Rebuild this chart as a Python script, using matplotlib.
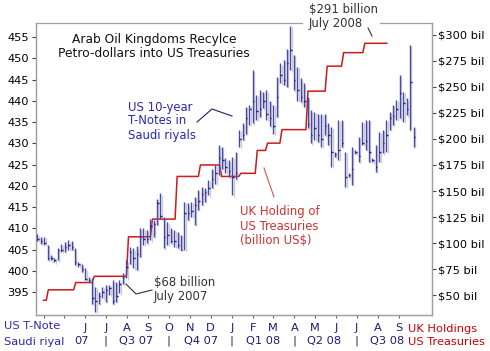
import matplotlib
matplotlib.use('Agg')
import matplotlib.pyplot as plt
import matplotlib.patheffects as pe
import pandas as pd

# US 10-year T-Note priced in Saudi riyals (bars: high / low / close)
highs = [408.6, 408.0, 408.0, 406.1, 403.7, 402.9, 405.3, 406.3, 406.8, 407.2,
         407.1, 405.3, 402.1, 401.7, 400.6, 398.5, 398.2, 396.3, 395.1, 396.3,
         396.7, 396.7, 397.8, 397.4, 397.8, 399.5, 402.5, 405.5, 405.3, 405.8,
         410.0, 410.0, 409.6, 412.3, 411.9, 417.0, 418.2, 412.7, 411.5, 410.0,
         409.6, 409.2, 408.4, 416.3, 415.9, 416.3, 417.4, 419.0, 419.8, 419.4,
         421.4, 424.0, 425.0, 429.5, 429.2, 426.5, 426.0, 426.8, 428.0, 433.1,
         434.7, 438.6, 439.0, 447.2, 441.4, 442.5, 442.1, 442.5, 440.0, 439.0,
         445.7, 448.8, 449.6, 452.3, 457.6, 450.8, 448.0, 445.3, 444.1, 441.0,
         437.8, 437.4, 437.0, 437.0, 437.0, 434.7, 433.9, 428.0, 435.5, 435.5,
         428.0, 423.0, 429.2, 428.5, 431.5, 435.1, 435.5, 435.5, 426.5, 429.6,
         432.7, 433.1, 435.5, 437.4, 439.0, 440.2, 446.1, 442.1, 440.6, 453.1, 433.9]
lows = [407.0, 406.4, 406.1, 402.5, 402.5, 402.0, 402.5, 404.5, 404.5, 404.9,
        405.0, 401.4, 401.0, 399.8, 397.8, 397.4, 392.3, 390.4, 392.3, 393.5,
        392.7, 394.3, 392.3, 392.7, 394.7, 397.0, 398.2, 401.7, 400.6, 400.2,
        403.3, 406.1, 406.5, 407.2, 408.0, 410.8, 412.3, 405.3, 406.1, 406.5,
        405.7, 405.3, 404.9, 404.9, 411.9, 412.7, 410.8, 414.3, 415.5, 416.3,
        417.8, 419.5, 420.5, 422.5, 424.0, 423.0, 422.0, 417.8, 421.5, 429.2,
        430.8, 432.3, 434.3, 434.7, 435.5, 436.2, 438.2, 435.5, 434.0, 432.3,
        436.2, 444.1, 443.7, 443.3, 447.2, 442.5, 440.0, 439.6, 438.6, 433.5,
        430.0, 430.8, 430.4, 429.2, 431.9, 429.6, 424.5, 426.8, 426.1, 429.2,
        419.8, 422.0, 420.2, 427.5, 425.7, 429.6, 428.4, 425.7, 425.5, 423.3,
        425.7, 427.6, 428.0, 433.1, 434.3, 435.5, 435.9, 435.1, 436.6, 433.1, 429.2]
closes = [407.5, 407.0, 406.5, 403.0, 403.0, 402.5, 405.0, 405.0, 405.5, 406.0,
          405.5, 402.0, 401.5, 400.5, 398.0, 397.8, 393.5, 393.0, 394.0, 395.0,
          395.5, 396.0, 393.0, 394.0, 397.0, 398.5, 401.0, 404.5, 403.0, 404.0,
          408.0, 407.5, 407.5, 410.5, 411.0, 416.0, 413.0, 408.0, 408.5, 407.0,
          407.0, 406.0, 405.0, 413.5, 413.5, 414.0, 415.5, 416.5, 418.0, 418.5,
          419.5, 421.5, 423.0, 426.5, 426.0, 424.5, 423.5, 422.0, 423.0, 431.0,
          432.0, 436.0, 438.0, 440.0, 437.5, 438.0, 440.0, 437.0, 436.0, 434.0,
          441.0, 446.0, 445.0, 449.0, 452.0, 445.0, 442.5, 441.0, 440.0, 434.5,
          432.0, 433.5, 432.0, 431.0, 434.0, 432.0, 428.0, 427.5, 428.5, 430.0,
          422.0, 422.5, 424.0, 428.0, 427.0, 430.0, 430.5, 428.0, 426.0, 424.5,
          428.0, 430.0, 432.0, 436.0, 436.5, 438.0, 441.8, 439.4, 438.0, 444.5, 431.5]
bar_dates = pd.date_range('2007-03-23', '2008-09-22', periods=len(highs))

# UK holdings of US Treasuries (billion US$), monthly steps
uk_dates = pd.to_datetime(['2007-04-01', '2007-04-08', '2007-05-18', '2007-06-14',
                           '2007-08-03', '2007-09-07', '2007-10-13', '2007-11-16',
                           '2007-12-17', '2008-01-14', '2008-02-07', '2008-02-22',
                           '2008-03-14', '2008-04-21', '2008-05-19', '2008-06-12',
                           '2008-07-13'])
uk_values = [45, 55, 62, 68, 106, 123, 164, 175, 164, 167, 189, 196, 209, 246, 270, 283, 292]
uk_end = pd.Timestamp('2008-08-14')

month_labels = ['', '', 'J', 'J', 'A', 'S', 'O', 'N', 'D', 'J', 'F', 'M', 'A', 'M', 'J', 'J', 'A', 'S']
quarter_labels = ['07', 'Q3 07', 'Q4 07', 'Q1 08', 'Q2 08', 'Q3 08']
quarter_mid = pd.to_datetime(['2007-05-27', '2007-08-14', '2007-11-17', '2008-02-15', '2008-05-15', '2008-08-14'])
quarter_starts = pd.to_datetime(['2007-07-01', '2007-10-01', '2008-01-01', '2008-04-01', '2008-07-01'])

W, H = 490, 351
fig = plt.figure(figsize=(W / 100, H / 100), dpi=100)
ax = fig.add_axes([36 / W, 1 - 315 / H, 396 / W, 292 / H])
ax2 = ax.twinx()

def px(x, y):
    return x / W, 1 - y / H

grey = '#a0a0a0'
navy = '#1c1c70'

# red step line
xs, ys = [], []
for i, (d, v) in enumerate(zip(uk_dates, uk_values)):
    nxt = uk_dates[i + 1] if i + 1 < len(uk_dates) else uk_end + pd.Timedelta(days=3)
    xs += [d, nxt - pd.Timedelta(days=3)]
    ys += [v, v]
ax2.plot(xs, ys, color='#cc1a1a', lw=1.1, zorder=1)

# blue bars
shadow = [pe.SimpleLineShadow(offset=(1.0, -1.0), shadow_color='#909090', alpha=0.45), pe.Normal()]
ax.vlines(bar_dates, lows, highs, colors='#4848ad', lw=1.0, path_effects=shadow, zorder=3)
ax.hlines(closes, bar_dates, bar_dates + pd.Timedelta(days=2.2), colors=navy, lw=1.0, zorder=4)
ax.set_zorder(ax2.get_zorder() + 1)
ax.patch.set_visible(False)

xmin, xmax = pd.Timestamp('2007-03-21'), pd.Timestamp('2008-10-19')
ax.set_xlim(xmin, xmax)
ax.set_ylim(389.6, 458.3)
ax2.set_ylim(30.8, 311.5)

ax.set_yticks(range(395, 456, 5))
ax2.set_yticks(range(50, 301, 25))
ax2.set_yticklabels(['$%d bil' % v for v in range(50, 301, 25)])
ticks = pd.date_range('2007-04-01', '2008-09-01', freq='MS')
ax.set_xticks(ticks)
ax.set_xticklabels(month_labels)

for a in (ax, ax2):
    for s in a.spines.values():
        s.set_color(grey)
        s.set_linewidth(0.9)
    a.spines['top'].set_visible(False)
ax.tick_params(axis='y', length=3, width=0.8, color='#444444', labelsize=8.2, pad=2)
ax2.tick_params(axis='y', length=3, width=0.8, color='#444444', labelsize=8.2, pad=1)
ax.tick_params(axis='x', length=2.5, width=0.8, color='#666666', labelsize=8.2, pad=3, labelcolor=navy)

# top border with a gap for the label
ax.plot([0, (302 - 36) / 396], [1, 1], transform=ax.transAxes, color=grey, lw=0.9, clip_on=False)
ax.plot([(380 - 36) / 396, 1], [1, 1], transform=ax.transAxes, color=grey, lw=0.9, clip_on=False)

# quarter row
tr = ax.get_xaxis_transform()
qy = -(341 - 315) / 292
for d, lab in zip(quarter_mid, quarter_labels):
    ax.text(d, qy, lab, transform=tr, ha='center', va='center', fontsize=8.2, color=navy)
for d in quarter_starts:
    ax.text(d, qy, '|', transform=tr, ha='center', va='center', fontsize=8.2, color='#333333')

fig.text(*px(4, 326), 'US T-Note', fontsize=8.2, color='#2a2aa8', va='center')
fig.text(*px(4, 342), 'Saudi riyal', fontsize=8.2, color='#2a2aa8', va='center')
fig.text(*px(408, 329), 'UK Holdings', fontsize=8.2, color='#cc0000', va='center')
fig.text(*px(408, 342), 'US Treasuries', fontsize=8.2, color='#cc0000', va='center')

# annotations
fig.text(*px(154, 46.5), 'Arab Oil Kingdoms Recylce\nPetro-dollars into US Treasuries',
         fontsize=8.8, ha='center', va='center', linespacing=1.1, color='#111111')
fig.text(*px(128, 121), 'US 10-year\nT-Notes in\nSaudi riyals', fontsize=8.4,
         va='center', linespacing=1.1, color='#2a2aa8')
fig.lines.append(plt.Line2D([197 / W, 212 / W, 232 / W], [1 - 122 / H, 1 - 109 / H, 1 - 116 / H],
                            transform=fig.transFigure, color=navy, lw=0.8))
fig.text(*px(240, 226), 'UK Holding of\nUS Treasuries\n(billion US$)', fontsize=8.4,
         va='center', linespacing=1.1, color='#cc3333')
fig.lines.append(plt.Line2D([264 / W, 274 / W], [1 - 168 / H, 1 - 197 / H],
                            transform=fig.transFigure, color='#cc5555', lw=0.8))
fig.text(*px(154, 289.5), '$68 billion\nJuly 2007', fontsize=8.4,
         va='center', linespacing=1.1, color='#333333')
fig.lines.append(plt.Line2D([126 / W, 136 / W, 152 / W], [1 - 284 / H, 1 - 294 / H, 1 - 290 / H],
                            transform=fig.transFigure, color='#333333', lw=0.8))
fig.text(*px(309, 16.5), '$291 billion\nJuly 2008', fontsize=8.4,
         va='center', linespacing=1.1, color='#333333')
fig.lines.append(plt.Line2D([368 / W, 372 / W], [1 - 28 / H, 1 - 36 / H],
                            transform=fig.transFigure, color='#333333', lw=0.8))

fig.savefig('out.png', dpi=100)
